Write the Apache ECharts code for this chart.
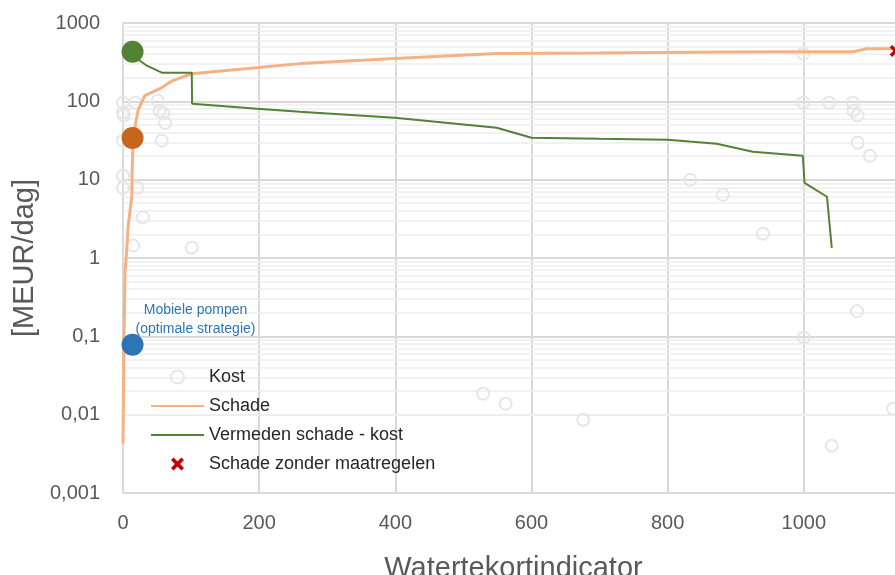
<!DOCTYPE html>
<html>
<head>
<meta charset="utf-8">
<script src="https://cdn.jsdelivr.net/npm/echarts@6/dist/echarts.min.js"></script>
<style>
  html, body { margin: 0; padding: 0; background: #fff; }
  #chart { width: 895px; height: 575px; }
</style>
</head>
<body>
<div id="chart"></div>
<script>
// x-as ticks en y-as (log) grenzen
var xTicks = [0, 200, 400, 600, 800, 1000, 1200];
var yMin = 0.001, yMax = 1000;

// Kost (grijze open cirkels)
var kostX = [0, 18, 51, 0, 1, 54, 59, 62, 0, 57, 0, 0, 21, 29, 15, 101, 529, 562, 676, 1041, 1131, 999, 999, 1037, 1072, 1073, 1079, 1079, 1097, 833, 881, 940, 1078, 1000];
var kostY = [96, 96, 102, 72, 66, 76, 70, 53, 31.5, 31.5, 11.2, 7.9, 7.9, 3.3, 1.44, 1.35, 0.0185, 0.0138, 0.0086, 0.004, 0.0119, 406, 96, 96, 96, 76, 66, 29.6, 20.2, 10, 6.4, 2.04, 0.21, 0.096];

// Schade
var schadeX = [0, 1.5, 3, 4.5, 7.3, 13, 13.3, 14, 14.7, 22, 32, 54, 73, 101, 260, 399, 549, 700, 880, 1000, 1072, 1092, 1135];
var schadeY = [0.0043, 0.1, 0.7, 0.95, 2.4, 6.2, 12, 17.5, 34, 76, 118, 145, 184, 225, 303, 351, 408, 415, 425, 430, 430, 470, 470];

// Vermeden schade - kost
var vermX = [13, 25, 35, 57, 101, 101.5, 197, 260, 399, 549, 600, 700, 800, 832, 872, 925, 998.5, 1001, 1034, 1041];
var vermY = [430, 330, 285, 232, 232, 93, 80.5, 73.8, 61.8, 46, 34.3, 33.3, 32.4, 30.6, 28.8, 22.7, 20.2, 9.1, 6.05, 1.35];

// Schade zonder maatregelen
var zonderX = [1135];
var zonderY = [440];

// gemarkeerde punten (groen, oranje, blauw)
var dotX = [14, 14, 14];
var dotY = [430, 34, 0.078];
var dotColors = ['#548235', '#C8651C', '#2E75B6'];

function pairs(xs, ys) {
  return xs.map(function (x, i) { return [x, ys[i]]; });
}

// minor rasterlijnen op 2..9 per decade
var minorLines = [];
for (var d = yMin; d < yMax; d *= 10) {
  for (var m = 2; m <= 9; m++) {
    minorLines.push({ yAxis: +(d * m).toPrecision(3) });
  }
}

var grey = '#595959';
var font = '"Liberation Sans", Arial, sans-serif';
var noSymbol = { color: 'rgba(0,0,0,0)', borderWidth: 0 };

var chart = echarts.init(document.getElementById('chart'));

var option = {
  animation: false,
  textStyle: { fontFamily: font },
  grid: { left: 123, right: -45, top: 23, bottom: 82, outerBoundsMode: 'none', containLabel: false },
  legend: {
    orient: 'vertical',
    left: 145,
    top: 362,
    z: 10,
    itemWidth: 53,
    itemHeight: 13,
    itemGap: 9,
    textStyle: { fontSize: 18, color: '#262626', lineHeight: 20, fontFamily: font },
    data: [
      { name: 'Kost' },
      { name: 'Schade', itemStyle: noSymbol },
      { name: 'Vermeden schade - kost', itemStyle: noSymbol },
      { name: 'Schade zonder maatregelen' }
    ]
  },
  xAxis: {
    type: 'value',
    min: xTicks[0],
    max: xTicks[xTicks.length - 1],
    interval: 200,
    name: 'Watertekortindicator',
    nameLocation: 'middle',
    nameGap: 61,
    nameTextStyle: { fontSize: 29, color: grey, padding: [0, 36, 0, 0] },
    axisLine: { show: false },
    axisTick: { show: false },
    axisLabel: {
      fontSize: 20, color: grey, margin: 20,
      formatter: function (v) { return String(v); }
    },
    splitLine: { show: true, lineStyle: { color: '#d9d9d9', width: 2 } }
  },
  yAxis: {
    type: 'log',
    logBase: 10,
    min: yMin,
    max: yMax,
    name: '[MEUR/dag]',
    nameLocation: 'middle',
    nameGap: 77,
    nameTextStyle: { fontSize: 29, color: grey },
    axisLine: { show: false },
    axisTick: { show: false },
    axisLabel: {
      fontSize: 20,
      color: grey,
      margin: 23,
      formatter: function (v) { return String(+v.toPrecision(3)).replace('.', ','); }
    },
    splitLine: { show: true, lineStyle: { color: '#d9d9d9', width: 2 } }
  },
  series: [
    {
      name: 'Kost',
      type: 'scatter',
      z: 2,
      symbol: 'circle',
      symbolSize: 12,
      itemStyle: { color: 'rgba(255,255,255,0)', borderColor: '#e6e6e6', borderWidth: 2, opacity: 1 },
      data: pairs(kostX, kostY),
      markLine: {
        silent: true,
        z: 1,
        symbol: 'none',
        label: { show: false },
        lineStyle: { color: '#eeeeee', width: 1.5, type: 'solid' },
        data: minorLines
      }
    },
    {
      name: 'Schade',
      type: 'line',
      z: 3,
      symbol: 'none',
      lineStyle: { color: '#F4B183', width: 3 },
      itemStyle: { color: '#F4B183' },
      data: pairs(schadeX, schadeY)
    },
    {
      name: 'Vermeden schade - kost',
      type: 'line',
      z: 3,
      symbol: 'none',
      lineStyle: { color: '#548235', width: 2 },
      itemStyle: { color: '#548235' },
      data: pairs(vermX, vermY)
    },
    {
      name: 'Schade zonder maatregelen',
      type: 'scatter',
      z: 4,
      symbol: 'path://M0,2 L2,0 L5,3 L8,0 L10,2 L7,5 L10,8 L8,10 L5,7 L2,10 L0,8 L3,5 Z',
      symbolSize: 12,
      itemStyle: { color: '#C00000', opacity: 1 },
      data: pairs(zonderX, zonderY)
    },
    {
      name: 'punten',
      type: 'scatter',
      z: 4,
      symbolSize: 22,
      data: dotX.map(function (x, i) {
        var item = { value: [x, dotY[i]], itemStyle: { color: dotColors[i], opacity: 1 } };
        if (i === 2) {
          item.label = {
            show: true,
            position: [74, -33],
            align: 'center',
            verticalAlign: 'top',
            formatter: 'Mobiele pompen\n(optimale strategie)',
            color: '#2E75B6',
            fontSize: 14,
            lineHeight: 19
          };
        }
        return item;
      })
    }
  ]
};

chart.setOption(option);
</script>
</body>
</html>
